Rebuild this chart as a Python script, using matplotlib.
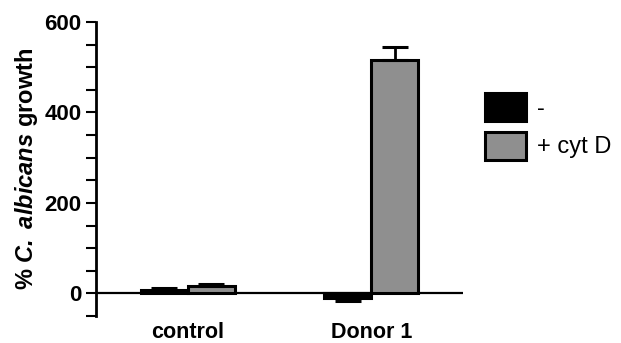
import matplotlib.pyplot as plt
import numpy as np
from matplotlib.patches import Patch
from matplotlib.ticker import MultipleLocator

plt.rcParams['font.family'] = ['Liberation Sans', 'DejaVu Sans']
plt.rcParams['mathtext.fontset'] = 'custom'
plt.rcParams['mathtext.bfit'] = 'Liberation Sans:italic:bold'
plt.rcParams['mathtext.it'] = 'Liberation Sans:italic:bold'

# data
groups = ['control', 'Donor 1']
minus_vals = [8, -11]
minus_err = [5, 6]
cytd_vals = [17, 515]
cytd_err = [3, 30]
series_labels = ['-', '+ cyt D']

gray = '#8f8f8f'
x = np.arange(len(groups))
w = 0.257

fig = plt.figure(figsize=(6.21, 3.43), dpi=100)
ax = fig.add_axes([0.1546, 0.0787, 0.591, 0.8572])

# one sided error bars (up for positive, down for negative)
def one_side(vals, errs):
    lo = [e if v < 0 else 0 for v, e in zip(vals, errs)]
    hi = [e if v >= 0 else 0 for v, e in zip(vals, errs)]
    return [lo, hi]

ekw = dict(elinewidth=2, capthick=2.2, capsize=9.5, ecolor='black')
ax.bar(x - w / 2, minus_vals, w, color='black', edgecolor='black', linewidth=2.2,
       yerr=one_side(minus_vals, minus_err), error_kw=ekw, zorder=3)
ax.bar(x + w / 2, cytd_vals, w, color=gray, edgecolor='black', linewidth=2.2,
       yerr=one_side(cytd_vals, cytd_err), error_kw=ekw, zorder=3)

ax.axhline(0, color='black', linewidth=1.6, zorder=2)

ax.set_xlim(-0.5, 1.5)
ax.set_ylim(-50, 600)
ax.yaxis.set_minor_locator(MultipleLocator(50))
ax.set_yticks([0, 200, 400, 600])

for s in ['top', 'right', 'bottom']:
    ax.spines[s].set_visible(False)
ax.spines['left'].set_linewidth(2)

ax.tick_params(axis='y', which='both', length=7, width=1.5, direction='out', pad=3.5,
               labelsize=16)
ax.tick_params(axis='x', length=0, pad=4, labelsize=15.5)
ax.set_xticks(x)
ax.set_xticklabels(groups, fontweight='bold')
for lab in ax.get_yticklabels():
    lab.set_fontweight('bold')

ax.set_ylabel(r'% $\mathbfit{C.}$ $\mathbfit{albicans}$ growth', fontsize=17,
              fontweight='bold', labelpad=3)

handles = [Patch(facecolor='black', edgecolor='black', linewidth=2.2),
           Patch(facecolor=gray, edgecolor='black', linewidth=2.2)]
fig.legend(handles, series_labels, loc='upper left', bbox_to_anchor=(0.781, 0.729),
           frameon=False, fontsize=17, handlelength=1.75, handleheight=1.45,
           handletextpad=0.45, labelspacing=0.45, borderpad=0, borderaxespad=0)

fig.savefig('out.png', dpi=100)
